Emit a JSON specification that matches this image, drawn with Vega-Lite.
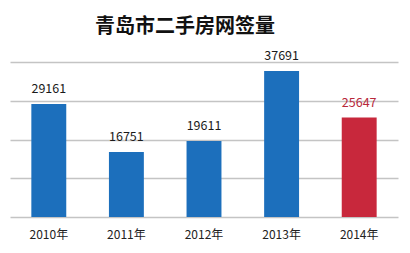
{
  "$schema": "https://vega.github.io/schema/vega-lite/v6.json",
  "autosize": "none",
  "width": 388,
  "height": 155,
  "padding": {"left": 10, "top": 62, "right": 12, "bottom": 36},
  "background": "white",
  "title": {
    "text": "青岛市二手房网签量",
    "font": "Noto Sans CJK SC",
    "fontSize": 20,
    "fontWeight": "bold",
    "color": "#111111",
    "anchor": "middle",
    "dx": -19,
    "offset": 13
  },
  "data": {
    "values": [
      {"year": "2010年", "value": 29161, "hl": "n"},
      {"year": "2011年", "value": 16751, "hl": "n"},
      {"year": "2012年", "value": 19611, "hl": "n"},
      {"year": "2013年", "value": 37691, "hl": "n"},
      {"year": "2014年", "value": 25647, "hl": "y"}
    ]
  },
  "config": {"view": {"stroke": null}},
  "resolve": {"scale": {"color": "independent"}},
  "encoding": {
    "x": {
      "field": "year", "type": "nominal", "sort": null,
      "scale": {"paddingInner": 0.55, "paddingOuter": 0.275},
      "axis": {"title": null, "labelAngle": 0, "domain": false, "ticks": false, "labelPadding": 12, "labelFont": "Noto Sans CJK SC", "labelFontSize": 12, "labelColor": "#222222"}
    },
    "y": {
      "field": "value", "type": "quantitative",
      "scale": {"domain": [0, 40000]},
      "axis": {"title": null, "labels": false, "ticks": false, "domain": false, "tickCount": 4, "gridColor": "#c4c4c4", "gridWidth": 1.5}
    }
  },
  "layer": [
    {
      "mark": {"type": "bar"},
      "encoding": {
        "color": {"field": "hl", "type": "nominal", "scale": {"domain": ["n", "y"], "range": ["#1c6fbc", "#c8283c"]}, "legend": null}
      }
    },
    {
      "mark": {"type": "text", "baseline": "bottom", "dy": -8, "font": "Noto Sans CJK SC", "fontSize": 12.5},
      "encoding": {
        "text": {"field": "value", "type": "quantitative", "format": "d"},
        "color": {"field": "hl", "type": "nominal", "scale": {"domain": ["n", "y"], "range": ["#1a1a1a", "#b8283a"]}, "legend": null}
      }
    }
  ]
}
